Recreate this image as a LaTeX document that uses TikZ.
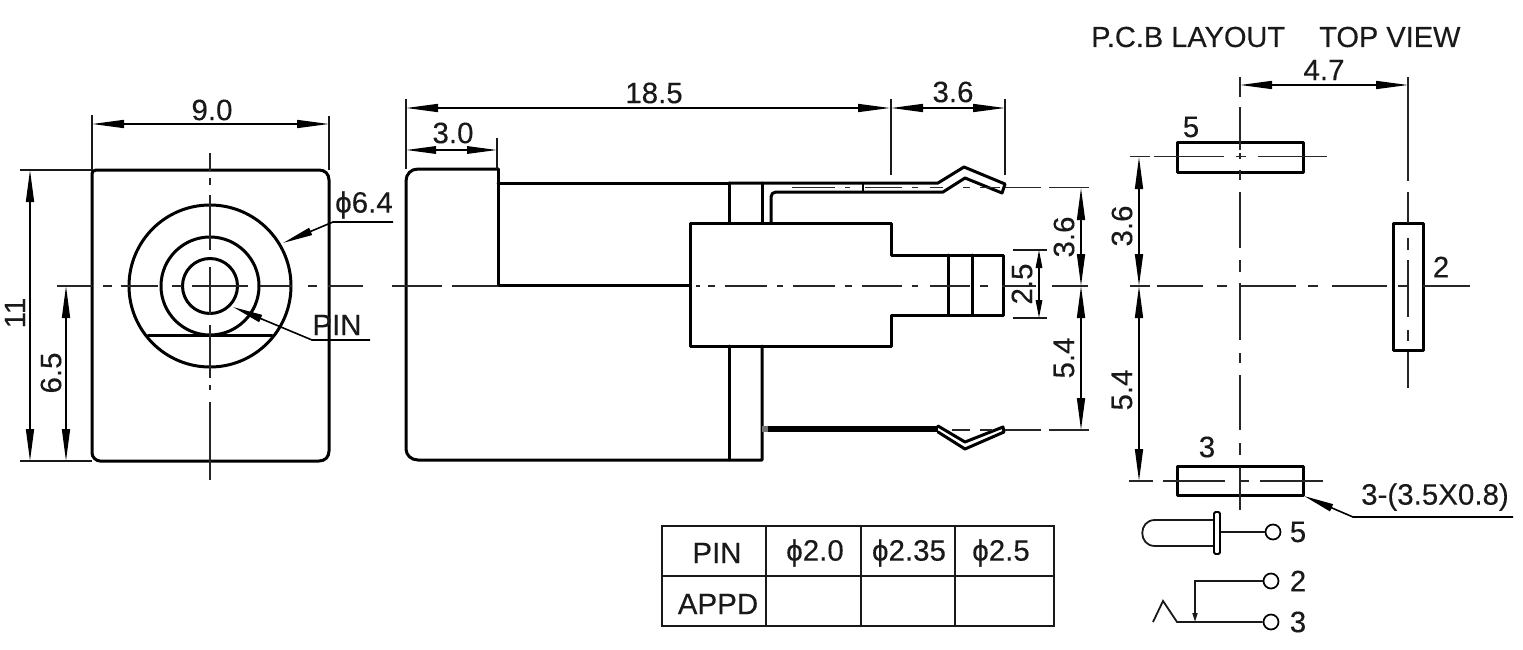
\documentclass[tikz,border=0pt]{standalone}
\usepackage{fontspec}
\setmainfont{Liberation Sans}
\newfontfamily\labfont{Liberation Sans}[FakeBold=0.25]
\usetikzlibrary{arrows.meta}
\tikzset{
  x=1pt,y=-1pt,
  outl/.style={line width=3pt,line cap=round,line join=round,black},
  thinl/.style={line width=1.5pt,black!90},
  med/.style={line width=1.8pt,black!90},
  dimA/.style={line width=1.5pt,{Triangle[length=32pt,width=8pt]}-{Triangle[length=32pt,width=8pt]}},
  dimS/.style={line width=1.5pt,{Triangle[length=18pt,width=6.5pt]}-{Triangle[length=18pt,width=6.5pt]}},
  leader/.style={line width=1.6pt,{Triangle[length=30pt,width=7.5pt]}-},
  lab/.style={inner sep=0pt,font=\labfont\fontsize{29.5}{30}\selectfont,text=black!90},
  title/.style={inner sep=0pt,font=\labfont\fontsize{29}{30}\selectfont,text=black!90},
  term/.style={circle,draw,line width=1.7pt,minimum size=15pt,inner sep=0pt},
  tick/.style={line width=1.5pt,black!85},
}
\newcommand{\hsegs}[2]{\foreach \a/\b in {#2}{\draw[tick] (\a,#1)--(\b,#1);}}
\newcommand{\vsegs}[2]{\foreach \a/\b in {#2}{\draw[tick] (#1,\a)--(#1,\b);}}
\begin{document}
\begin{tikzpicture}
\useasboundingbox (0,0) rectangle (1523,650);
% ---------- front view
\draw[outl] (92,174) .. controls (92,172) and (93,170) .. (96,170) -- (319,170)
  .. controls (325,170) and (329,174) .. (329,180) -- (329,451)
  .. controls (329,457) and (325,461) .. (319,461) -- (100,461)
  .. controls (96,461) and (92,457) .. (92,453) -- cycle;
\draw[outl] (210,286) circle[radius=81] (210,286) circle[radius=49] (210,286) circle[radius=27.5];
\draw[outl] (148,335) -- (272,335);
\hsegs{286}{57/92,103/112,121/158,172/182,192/248,260/292,308/317,328/363}
\vsegs{210}{153/171,178/185,195/250,267/315,325/378,385/390,402/480}
\draw[thinl] (92,170)--(92,115) (329,170)--(329,116) (20,170)--(92,170) (20,461)--(92,461);
\draw[dimA] (92,124)--(329,124);
\draw[dimA] (30,170)--(30,461);
\draw[dimA] (66,286)--(66,461);
\node[lab] (n90) at (212,110) {9.0};
\node[lab,rotate=90] (n11) at (15,313) {11};
\node[lab,rotate=90] (n65) at (51,373) {6.5};
\node[lab,anchor=west] (n64) at (335,205) {ϕ6.4};
\node[lab] (npin) at (337,325) {PIN};
\coordinate (l1a) at (283,243); \coordinate (l1b) at (333,222); \coordinate (l1c) at (393,222);
\draw[leader] (l1a)--(l1b)--(l1c);
\coordinate (l2a) at (233,307); \coordinate (l2b) at (312,340); \coordinate (l2c) at (370,340);
\draw[leader] (l2a)--(l2b)--(l2c);
% ---------- side view
\draw[outl] (729,183)--(498,183) (498,169)--(498,285)--(690,285);
\draw[outl] (729,183)--(729,223) (762,183)--(762,223);
\draw[outl] (498,169) -- (418,169) .. controls (411,169) and (406,174) .. (406,181)
  -- (406,449) .. controls (406,455) and (411,460) .. (418,460) -- (762,460) -- (762,346);
\draw[outl] (729,346)--(729,460);
\draw[outl] (690,223)--(891,223)--(891,255)--(1003,255)--(1003,315)--(891,315)--(891,346)--(690,346)--cycle;
\draw[outl] (948,255)--(948,315) (972,255)--(972,315);
% top pin
\draw[outl] (729,183)--(938,183)--(964,167)--(1005,184)--(1002,193)--(965,178)--(943,192)--(776,192)
  .. controls (773,192) and (771,194) .. (771,197)--(771,223);
\draw[outl,line width=1.8pt] (863,183)--(863,192);
% bottom pin
\draw[line width=6pt,black] (768,429)--(938,429);
\draw[line width=6pt,black!55] (762,429)--(768,429);
\draw[outl] (938,426)--(965,442)--(1003,427)--(1004,432)--(965,449)--(938,432);
\hsegs{187.5}{792/835,845/850,865/902,912/918,930/943,963/970,980/1000,1005/1041,1049/1089}
\hsegs{430}{952/970,980/992,1005/1041,1049/1089}
\hsegs{286}{392/442,452/498,696/700,708/715,725/767,777/783,793/835,845/852,862/902,912/918,930/970,980/988,1002/1036,1052/1088}
\draw[thinl] (406,169)--(406,99) (891,175)--(891,99) (1005,175)--(1005,99) (497,169)--(497,138);
\draw[dimA] (406,108)--(890,108);
\draw[dimA] (891,108)--(1005,108);
\draw[line width=1.5pt,{Triangle[length=30pt,width=7.5pt]}-{Triangle[length=30pt,width=7.5pt]}] (406,150)--(497,150);
\node[lab] (n185) at (654,93) {18.5};
\node[lab] (n36t) at (953,92) {3.6};
\node[lab] (n30) at (453,133) {3.0};
\draw[dimA] (1081,188)--(1081,286);
\draw[dimA] (1081,286)--(1081,430);
\draw[dimS] (1039,250)--(1039,318);
\draw[thinl] (1013,250)--(1047,250) (1013,318)--(1047,318);
\node[lab,rotate=90] (n36s) at (1064,237) {3.6};
\node[lab,rotate=90] (n54s) at (1064,358) {5.4};
\node[lab,rotate=90] (n25) at (1022,284) {2.5};
% ---------- PCB layout
\node[title,anchor=west] (nt1) at (1091,37) {P.C.B LAYOUT};
\node[title,anchor=west] (nt2) at (1319,37) {TOP VIEW};
\node[lab] (n47) at (1324,70) {4.7};
\draw[dimA] (1240,85)--(1408,85);
\draw[outl] (1177,143) rectangle (1303,172);
\draw[outl] (1177,466) rectangle (1303,495);
\draw[outl] (1393,223) rectangle (1423,350);
\vsegs{1240}{77/97,107/150,153/159,170/180,192/248,260/272,283/340,353/363,375/430,443/455,467/510}
\vsegs{1408}{77/181,192/223,238/250,260/317,330/341,352/388}
\hsegs{156.5}{1130/1150,1154/1224,1236/1246,1258/1327}
\hsegs{286}{1130/1150,1157/1203,1217/1227,1240/1296,1308/1318,1332/1387,1398/1408,1423/1470}
\hsegs{481}{1129/1153,1163/1225,1240/1249,1260/1323}
\node[lab] (p5) at (1191,127) {5};
\node[lab] (p3) at (1207,447) {3};
\node[lab] (p2) at (1441,267) {2};
\draw[dimA] (1139,157)--(1139,286);
\draw[dimA] (1139,286)--(1139,481);
\node[lab,rotate=90] (n36p) at (1122,226) {3.6};
\node[lab,rotate=90] (n54p) at (1122,390) {5.4};
\node[lab,anchor=west] (nsz) at (1361,497) {3-(3.5X0.8)};
\coordinate (l3a) at (1304,496); \coordinate (l3b) at (1353,517); \coordinate (l3c) at (1513,517);
\draw[leader] (l3a)--(l3b)--(l3c);
% ---------- table
\draw[med] (662,526) rectangle (1054,626) (662,576)--(1054,576) (766,526)--(766,626) (861,526)--(861,626) (955,526)--(955,626);
\node[lab] (c1) at (717,553) {PIN};
\node[lab] (c2) at (718,604) {APPD};
\node[lab] (c3) at (815,553) {ϕ2.0};
\node[lab] (c4) at (909,553) {ϕ2.35};
\node[lab] (c5) at (1001,553) {ϕ2.5};
% ---------- schematic
\draw[med] (1213,520)--(1155,520) .. controls (1138,520) and (1138,546) .. (1155,546) -- (1213,546);
\node[draw,line width=1.8pt,rounded corners=1.5pt,minimum width=6pt,minimum height=42pt,inner sep=0pt] (flange) at (1217,533) {};
\node[term] (t5) at (1273,532) {};
\node[term] (t2) at (1271,581) {};
\node[term] (t3) at (1271,622) {};
\draw[med] (flange.east |- t5)--(t5);
\draw[med,-{Triangle[length=9pt,width=5pt]}] (t2)-|(1195,622);
\draw[med] (t3)--(1177,622)--(1163,601)--(1153,622);
\node[lab] (k5) at (1298,532) {5};
\node[lab] (k2) at (1298,581) {2};
\node[lab] (k3) at (1298,622) {3};
\end{tikzpicture}
\end{document}
